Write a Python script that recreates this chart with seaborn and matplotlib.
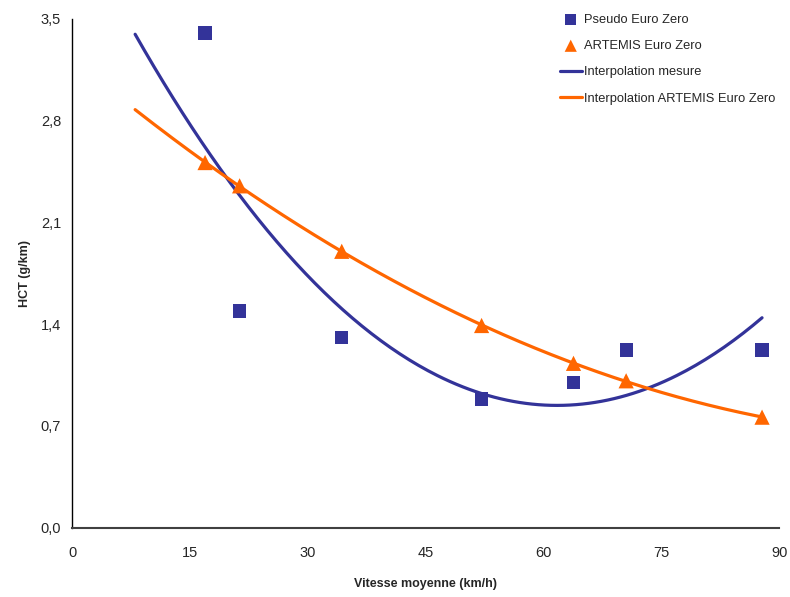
import numpy as np
import pandas as pd
import matplotlib
matplotlib.use("Agg")
import matplotlib.pyplot as plt
from matplotlib.ticker import FuncFormatter, MultipleLocator
import seaborn as sns

# vitesse moyenne (km/h) des cycles
vitesse = [16.9, 21.3, 34.3, 52.1, 63.8, 70.5, 87.8]
# HCT mesure (Pseudo Euro Zero) et modele ARTEMIS
hct_pseudo = [3.40, 1.49, 1.31, 0.885, 0.997, 1.222, 1.222]
hct_artemis = [2.51, 2.35, 1.90, 1.39, 1.13, 1.01, 0.76]

NAVY = "#333399"
ORANGE = "#FF6600"

sns.set_style("white")
plt.rcParams["font.family"] = ["Liberation Sans", "DejaVu Sans"]

df = pd.DataFrame({"vitesse": vitesse, "pseudo": hct_pseudo, "artemis": hct_artemis})

# tendances polynomiales d'ordre 2, prolongees vers l'arriere jusqu'a 8 km/h
xs = np.linspace(8, max(vitesse), 200)
fit_pseudo = np.polyval(np.polyfit(df["vitesse"], df["pseudo"], 2), xs)
fit_artemis = np.polyval(np.polyfit(df["vitesse"], df["artemis"], 2), xs)

fig = plt.figure(figsize=(7.9, 5.97), dpi=100)
ax = fig.add_axes([0.0915, 0.116, 0.895, 0.853])

sns.scatterplot(data=df, x="vitesse", y="pseudo", marker="s", s=90, color=NAVY,
                edgecolor="none", label="Pseudo Euro Zero", zorder=4, ax=ax)
sns.scatterplot(data=df, x="vitesse", y="artemis", marker="^", s=120, color=ORANGE,
                edgecolor="none", label="ARTEMIS Euro Zero", zorder=4, ax=ax)
sns.lineplot(x=xs, y=fit_pseudo, color=NAVY, lw=2.3, label="Interpolation mesure",
             zorder=3, ax=ax)
sns.lineplot(x=xs, y=fit_artemis, color=ORANGE, lw=2.3,
             label="Interpolation ARTEMIS Euro Zero", zorder=3, ax=ax)

ax.set_xlim(0, 90)
ax.set_ylim(0, 3.5)
ax.xaxis.set_major_locator(MultipleLocator(15))
ax.yaxis.set_major_locator(MultipleLocator(0.7))
ax.yaxis.set_major_formatter(FuncFormatter(lambda v, p: f"{v:.1f}".replace(".", ",")))

for side in ["top", "right"]:
    ax.spines[side].set_visible(False)
ax.spines["left"].set_color("black")
ax.spines["bottom"].set_color("#404040")
ax.spines["left"].set_linewidth(1.0)
ax.spines["bottom"].set_linewidth(1.5)
ax.tick_params(axis="both", direction="out", length=4, width=1, color="black",
               labelsize=10.5)
ax.tick_params(axis="x", pad=9)
ax.tick_params(axis="y", pad=4)

ax.set_xlabel("Vitesse moyenne (km/h)", fontsize=9, fontweight="bold", labelpad=13)
ax.set_ylabel("HCT (g/km)", fontsize=9, fontweight="bold", labelpad=7)

ax.legend(loc="upper left", bbox_to_anchor=(0.673, 1.032), frameon=False, fontsize=9.3,
          handlelength=1.7, handletextpad=0.15, labelspacing=1.1, markerscale=0.8)

fig.savefig("out.png", dpi=100)
